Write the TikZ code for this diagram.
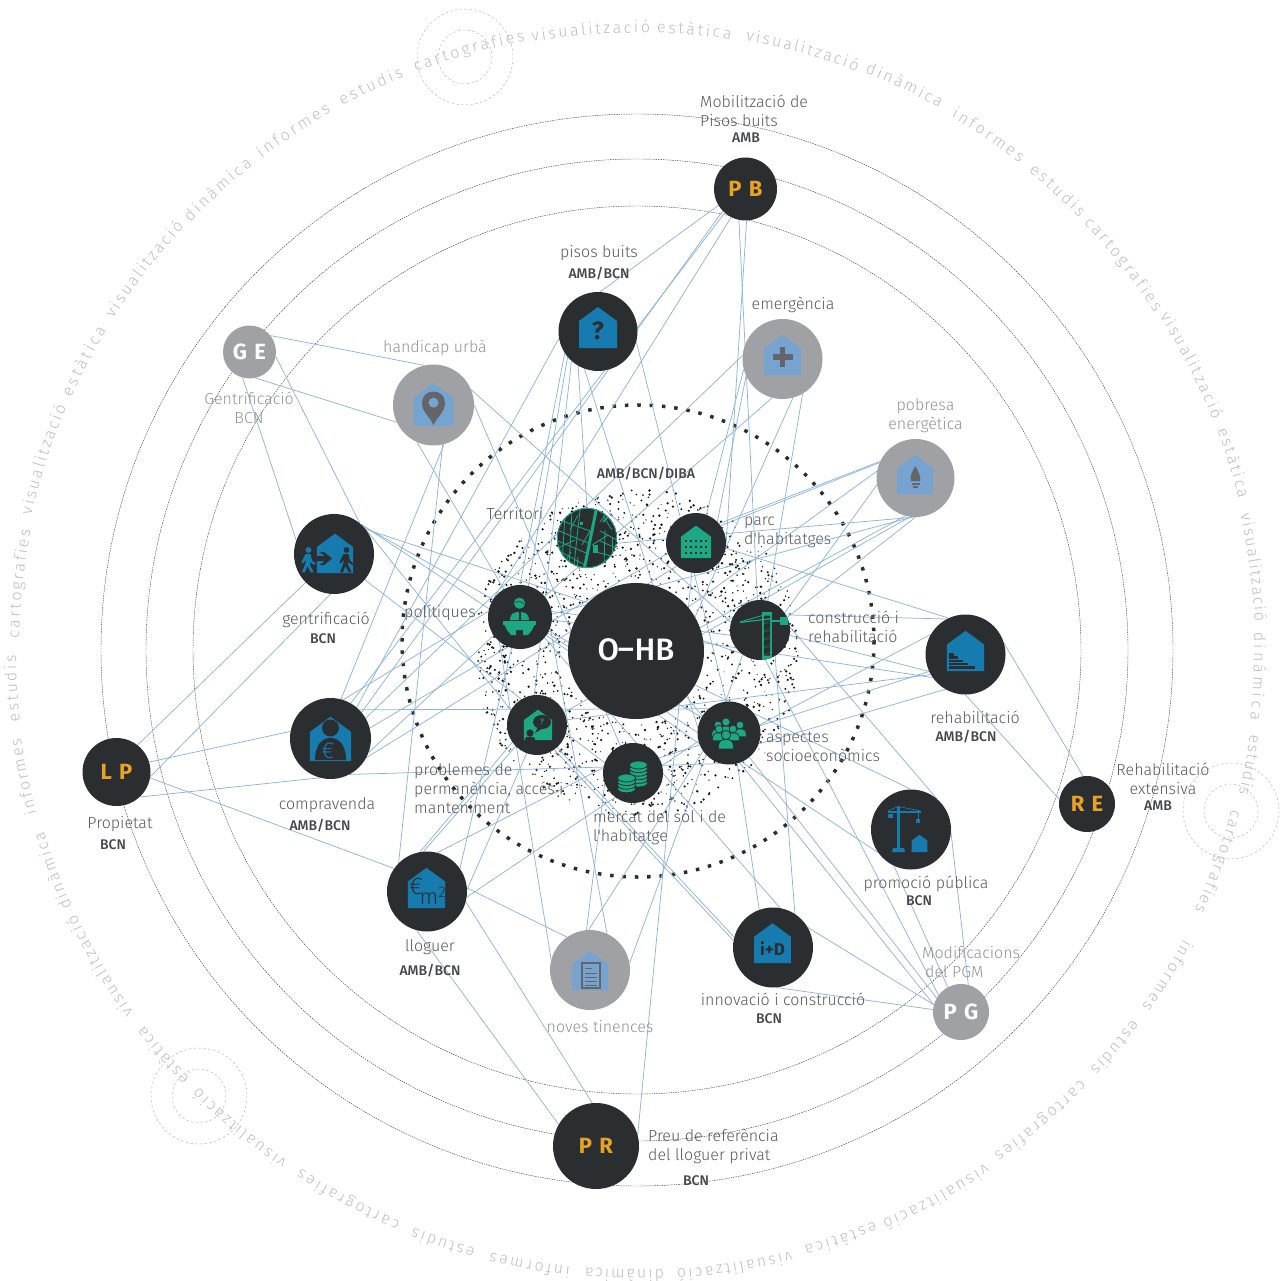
\documentclass[tikz,border=0pt]{standalone}
\usepackage{fontspec}
\usetikzlibrary{decorations.text}
\newfontfamily\lf{Fira Sans Light}
\newfontfamily\mf{Fira Sans Medium}
\newfontfamily\hvf{Fira Sans}[BoldFont={Fira Sans Bold}]
\definecolor{nodedark}{HTML}{2B2E31}
\definecolor{nodegrey}{HTML}{A0A1A5}
\definecolor{homeblue}{HTML}{167CB0}
\definecolor{homepale}{HTML}{76A3CF}
\definecolor{iconmid}{HTML}{636569}
\definecolor{teal}{HTML}{1BA882}
\definecolor{linkc}{HTML}{8FB4DA}
\definecolor{labelc}{HTML}{55585B}
\definecolor{labelg}{HTML}{909296}
\definecolor{orangec}{HTML}{E8A325}
\definecolor{ringc}{HTML}{BCBEC0}
\pgfdeclarelayer{under}
\pgfsetlayers{under,main}
\tikzset{
 dnode/.style={circle,inner sep=0pt,fill=nodedark,minimum size=#1 pt},
 gnode/.style={circle,inner sep=0pt,fill=nodegrey,minimum size=#1 pt},
 link/.style={draw=linkc,line width=0.75pt},
 thinring/.style={draw=black!75,line width=0.45pt,dash pattern=on 1.4pt off 1pt},
 paleling/.style={draw=black!28,line width=0.5pt,dash pattern=on 2.4pt off 2.4pt},
 lbl/.style={font=\lf\fontsize{16}{19}\selectfont,text=labelc,inner sep=0pt},
 lblg/.style={font=\lf\fontsize{16}{19}\selectfont,text=labelg,inner sep=0pt},
 lblb/.style={font=\mf\fontsize{14}{16}\selectfont,text=labelc!80!black,inner sep=0pt},
 badge/.style={font=\hvf\bfseries\fontsize{22}{22}\selectfont,text=orangec},
 badgew/.style={font=\hvf\bfseries\fontsize{22}{22}\selectfont,text=white},
}
\newcommand{\ringf}{\lf\fontsize{16}{16}\selectfont\color{ringc}}
\newcommand{\ringword}[5]{%
 \pgfmathsetmacro\aA{atan2(#3-650,#2-637)}%
 \pgfmathsetmacro\aB{atan2(#5-650,#4-637)}%
 \pgfmathsetmacro\aC{\aB<\aA ? \aB+360 : \aB}%
 \pgfmathsetmacro\rR{(veclen(#2-637,#3-650)+veclen(#4-637,#5-650))/2-3}%
 \path[decorate,decoration={text along path,text={|\ringf|#1},text align=fit to path}]
  plot[domain=\aA:\aC,samples=25] ({637+\rR*cos(\x)},{650+\rR*sin(\x)});
}
\newcommand{\homeat}[4]{\begin{scope}[shift={(#1,#2)},scale=#3]
 \fill[#4] (-19,0)--(-19,-27)--(0,-41)--(19,-27)--(19,0)--cycle;\end{scope}}
\newcommand{\walker}[3]{\begin{scope}[shift={(#1,#2)}]
 \fill[#3] (0.5,-22) circle (2.9);
 \fill[#3] (-2.5,-18)--(2.5,-18)--(4,-11.5)--(7.5,-8.5)--(6.2,-7)--(2.2,-10)--(2,-7)--(5.5,0)--(2.8,.6)--(-.5,-6)--(-3.2,.6)--(-6,0)--(-2.7,-8)--(-2.2,-12.5)--(-5,-8.5)--(-6.6,-9.5)--cycle;\end{scope}}
\newcommand{\coinstack}[4]{\foreach \k in {#3,...,0}{
 \filldraw[fill=teal,draw=nodedark,line width=.8pt] (#1,#2+\k*3.6) ellipse (#4 and 4);}}
\newcommand{\crowdp}[3]{\begin{scope}[shift={(#1,#2)},scale=#3]
 \fill[teal] (-7.5,13.5) .. controls (-8,6) and (-5,4.5) .. (0,4.5) .. controls (5,4.5) and (8,6) .. (7.5,13.5) -- cycle;
 \draw[nodedark,line width=.8pt] (-7.5,13.5) .. controls (-8,6) and (-5,4.5) .. (0,4.5) .. controls (5,4.5) and (8,6) .. (7.5,13.5);
 \filldraw[fill=teal,draw=nodedark,line width=.8pt] (0,0) circle (4.6);\end{scope}}
\begin{document}
\begin{tikzpicture}[x=1pt,y=-1pt]
\useasboundingbox (0,0) rectangle (1282,1281);
% --- nodes
\node[dnode=136] (ohb) at (636,651) {};
\node[dnode=60] (terr) at (587,538) {};
\node[dnode=60] (parc) at (696,543) {};
\node[dnode=64] (polit) at (520,617) {};
\node[dnode=60] (constr) at (760,630) {};
\node[dnode=60] (probl) at (537,725) {};
\node[dnode=60] (merc) at (633,773) {};
\node[dnode=63] (aspect) at (729,733) {};
\node[dnode=63,badge] (pb) at (745.5,189) {P\,\,B};
\node[dnode=79] (pisos) at (598,331.5) {};
\node[gnode=80] (emerg) at (782.5,359) {};
\node[gnode=78] (pob) at (915.5,478) {};
\node[gnode=81] (handi) at (433.5,405) {};
\node[gnode=53,badgew] (ge) at (249.5,352) {G\,\,E};
\node[dnode=80] (gent) at (334,554) {};
\node[dnode=81] (compra) at (330.5,738.5) {};
\node[dnode=68,badge] (lp) at (116.5,772) {L\,\,P};
\node[dnode=80] (llog) at (427,891.5) {};
\node[gnode=80] (noves) at (590,970) {};
\node[dnode=86,badge] (pr) at (596,1146) {P\,\,R};
\node[dnode=80] (innov) at (773,947.5) {};
\node[dnode=80] (promo) at (911,829.5) {};
\node[gnode=56,badgew] (pg) at (961,1012) {P\,\,G};
\node[dnode=56,badge] (re) at (1087,804) {R\,\,E};
\node[dnode=80] (rehab) at (965.5,654.5) {};
% --- logo
\node[font=\mf\fontsize{31}{31}\selectfont,text=white,inner sep=0pt] (logo) at (636,650) {O\kern-1pt\raisebox{1.5pt}{–}\kern.5pt HB};
\begin{pgfonlayer}{under}
% rings
\draw[thinring] (637,650) circle (444);
\draw[thinring] (637,650) circle (491);
\draw[thinring] (637,650) circle (536);
\foreach \cx/\cy in {465/57,199/1096,1231/811}{
 \draw[paleling] (\cx,\cy) circle (48);
 \draw[paleling] (\cx,\cy) circle (27);}
\draw[nodedark,line width=3.5pt,dash pattern=on 3.5pt off 8.85pt] (638,641) circle (236);
% stipple
\pgfmathsetseed{4217}
\foreach \i in {1,...,1500}{
 \pgfmathsetmacro\ta{rnd*360}
 \pgfmathsetmacro\ra{10*sqrt(rnd*217.12+51.84)}
 \pgfmathsetmacro\sa{0.55+0.85*rnd}
 \fill[black!90] ({636+\ra*cos(\ta)},{652+\ra*sin(\ta)}) circle (\sa);}
% ring words
\ringword{informes}{31}{815}{21}{738}
\ringword{estudis}{17}{722}{13}{655}
\ringword{cartografies}{14}{638}{30}{530}
\ringword{visualització}{30}{515}{62}{405}
\ringword{estàtica}{65}{395}{107}{330}
\ringword{visualització}{108}{315}{184}{227}
\ringword{dinàmica}{188}{220}{251}{163}
\ringword{informes}{261}{157}{329}{108}
\ringword{estudis}{342}{105}{402}{72}
\ringword{cartografies}{416}{72}{524}{35}
\ringword{visualització}{532}{40}{650}{29}
\ringword{estàtica}{657}{28}{731}{38}
\ringword{visualització}{746}{38}{858}{68}
\ringword{dinàmica}{866}{70}{941}{105}
\ringword{informes}{952}{115}{1022}{160}
\ringword{estudis}{1030}{170}{1082}{215}
\ringword{cartografies}{1085}{222}{1158}{310}
\ringword{visualització}{1160}{316}{1218}{418}
\ringword{estàtica}{1216}{431}{1246}{497}
\ringword{visualització}{1245}{513}{1256}{622}
\ringword{dinàmica}{1256}{632}{1254}{720}
\ringword{estudis}{1252}{735}{1243}{795}
\ringword{cartografies}{1234}{810}{1198}{912}
\ringword{informes}{1189}{942}{1142}{1007}
\ringword{estudis}{1136}{1022}{1091}{1070}
\ringword{cartografies}{1083}{1082}{995}{1155}
\ringword{visualització}{987}{1167}{883}{1222}
\ringword{estàtica}{875}{1223}{805}{1250}
\ringword{visualització}{791}{1252}{677}{1275}
\ringword{dinàmica}{664}{1273}{585}{1270}
\ringword{informes}{570}{1270}{490}{1255}
\ringword{estudis}{475}{1250}{412}{1232}
\ringword{cartografies}{400}{1222}{298}{1173}
\ringword{visualització}{286}{1163}{196}{1090}
\ringword{estàtica}{188}{1080}{141}{1028}
\ringword{visualització}{133}{1013}{71}{917}
\ringword{dinàmica}{71}{907}{39}{833}
% connectors
\foreach \a/\b in {
 pb.211/pisos.87,pb.224/compra.40,pb.229/compra.60,pb.243/polit.150,pb.258/constr.95,pb.272/parc.0,
 pisos.190/compra.50,pisos.213/polit.90,pisos.220/polit.75,pisos.228/probl.95,pisos.240/terr.90,pisos.250/aspect.170,pisos.345/aspect.95,
 handi.246/polit.120,handi.285/compra.75,handi.283/llog.135,handi.0/merc.115,handi.22/constr.165,
 ge.38/handi.103,ge.283/handi.205,ge.255/gent.160,ge.350/gent.50,
 gent.48/polit.165,gent.42/probl.150,gent.38/constr.230,gent.45/aspect.150,gent.-40/merc.160,
 lp.52/gent.225,lp.-8/gent.265,lp.17/compra.170,lp.-47/compra.255,lp.-10/llog.145,
 compra.72/polit.170,compra.-20/polit.215,compra.-62/aspect.255,compra.45/aspect.50,compra.-28/parc.230,
 llog.75/merc.170,llog.100/probl.215,llog.95/probl.225,llog.3/probl.250,llog.-8/aspect.195,llog.5/noves.125,llog.-15/pr.95,llog.-105/pr.150,llog.35/polit.255,
 noves.165/polit.230,noves.95/merc.200,noves.92/aspect.215,noves.65/polit.340,noves.10/constr.235,
 pr.15/parc.262,
 innov.110/aspect.285,innov.57/constr.300,innov.80/polit.320,innov.170/probl.305,innov.165/probl.312,innov.30/pg.165,innov.-85/pg.175,
 promo.215/polit.330,promo.90/ohb.-30,promo.50/constr.5,promo.-5/pg.75,promo.-115/pg.118,
 pg.150/aspect.310,pg.143/constr.280,pg.165/ohb.-42,
 rehab.118/constr.30,rehab.115/parc.-10,rehab.150/aspect.15,rehab.-120/aspect.-20,rehab.-145/polit.-5,rehab.-150/probl.10,rehab.-155/constr.-10,rehab.16/re.98,rehab.-90/re.170,
 pob.155/parc.40,pob.157/parc.35,pob.170/ohb.40,pob.190/constr.35,pob.265/polit.5,pob.262/probl.25,pob.268/terr.-10,pob.255/ohb.20,pob.270/constr.25,
 emerg.175/compra.30,emerg.195/parc.70,emerg.205/parc.45,emerg.255/polit.40,emerg.285/ohb.30,emerg.300/constr.75,
 parc.200/compra.15,constr.190/polit.10,merc.30/rehab.205,aspect.200/polit.-35}{
 \draw[link] (\a) -- (\b);}
\end{pgfonlayer}
% --- icons: houses
\homeat{598}{348}{1}{homeblue}
\node[font=\hvf\bfseries\fontsize{25}{25}\selectfont,text=nodedark,inner sep=0pt] (qm) at (598,331) {?};
\homeat{433.5}{426}{1.05}{homepale}
\fill[iconmid] (433.5,425) .. controls (430,417) and (422,412) .. (422,403) .. controls (422,396) and (427,391.5) .. (433.5,391.5) .. controls (440,391.5) and (445,396) .. (445,403) .. controls (445,412) and (437,417) .. cycle;
\fill[homepale] (433.5,402.7) circle (5);
\homeat{782.5}{375}{.98}{homepale}
\fill[iconmid] (779.7,347) rectangle (785.3,367);
\fill[iconmid] (772.5,354.2) rectangle (792.5,359.8);
\homeat{915}{494}{.95}{homepale}
\fill[iconmid] (915.5,466) .. controls (912,472) and (909.5,476) .. (911,481) -- (920,481) .. controls (921.5,476) and (918,472) .. cycle;
\fill[iconmid] (911.5,482.5) rectangle (919.5,484.5);
\fill[iconmid] (913,485.5) rectangle (918,488);
% gentrification
\homeat{335}{573}{.96}{homeblue}
\walker{308}{572}{homeblue}
\walker{346}{572}{nodedark}
\fill[nodedark] (317,556)--(325,556)--(319.5,552)--(324,552)--(332,558.5)--(324,565)--(319.5,565)--(325,561)--(317,561)--cycle;
% compravenda
\homeat{330.5}{761}{1.08}{homeblue}
\fill[nodedark] (315,760) .. controls (315,745) and (322,738) .. (330.5,738) .. controls (339,738) and (346,745) .. (346,760) -- cycle;
\fill[nodedark] (330.5,728) circle (8.5);
\node[font=\lf\fontsize{23}{23}\selectfont,text=homeblue,inner sep=0pt] (eu) at (328,751) {€};
% lloguer
\homeat{426.5}{908}{.98}{homeblue}
\node[font=\lf\fontsize{24}{24}\selectfont,text=nodedark,inner sep=0pt] (eum) at (416,887) {€};
\node[font=\lf\fontsize{22}{22}\selectfont,text=nodedark,inner sep=0pt] (msq) at (433,896) {m\textsuperscript{2}};
% noves
\homeat{590}{990}{.95}{homepale}
\draw[iconmid,line width=1.4pt] (582,963) rectangle (600,988);
\foreach \yy/\xe in {968/592,973/597,977/597,981/597,985/597}{\draw[iconmid,line width=1pt] (585,\yy) -- (\xe,\yy);}
% i+D
\homeat{772.5}{963}{.97}{homeblue}
\node[font=\hvf\bfseries\fontsize{17}{17}\selectfont,text=nodedark,inner sep=0pt] (idt) at (772.5,949) {i+D};
% rehab
\homeat{965.5}{671}{.98}{homeblue}
\fill[nodedark] (949,653) rectangle (954,655.5);
\fill[nodedark] (949,656.3) rectangle (958,658.8);
\fill[nodedark] (949,659.6) rectangle (963,662.1);
\fill[nodedark] (949,662.9) rectangle (968,665.4);
\fill[nodedark] (949,666.2) rectangle (975,668.7);
% promocio crane
\homeat{919.5}{852}{.42}{homeblue}
\fill[homeblue] (896.5,807) rectangle (900,848);
\fill[homeblue] (893,848)--(904,848)--(905,852)--(892,852)--cycle;
\fill[homeblue] (888,811) rectangle (921,813);
\draw[homeblue,line width=.7pt] (888,811)--(898,806.5)--(921,811);
\fill[homeblue] (888,814) rectangle (893,818);
\draw[homeblue,line width=.8pt] (918,813)--(918,820);
\fill[homeblue] (916,819) rectangle (920,822.5);
% parc
\homeat{696}{558}{.79}{teal}
\foreach \i in {0,...,4}{\foreach \j in {0,1,2}{\fill[nodedark] ({686+\i*5-1.3},{541+\j*6-1.3}) rectangle ++(2.6,2.6);}}
% problemes
\homeat{538}{740}{.74}{teal}
\fill[nodedark] (542,722) ellipse (9 and 7);
\fill[nodedark] (538,727)--(535,733)--(543,728)--cycle;
\node[font=\mf\fontsize{8}{8}\selectfont,text=teal,inner sep=0pt] (pq) at (542,722) {?};
\fill[nodedark] (530,733) circle (3.6);
\fill[nodedark] (524.5,741) .. controls (525,737) and (527,736.5) .. (530,736.5) .. controls (533,736.5) and (535,737) .. (535.5,741) -- cycle;
% merc
\coinstack{638.5}{765}{5}{9}
\coinstack{626.5}{778}{3}{9}
% aspect
\crowdp{740}{725}{.85}
\crowdp{718}{725}{.85}
\crowdp{726}{722}{.9}
\crowdp{733}{729}{.85}
\crowdp{719}{729}{.85}
\crowdp{726}{735}{1}
% politiques
\fill[teal] (519.5,603.2) circle (5.6);
\draw[nodedark,line width=.6pt] (515,603) -- (519,601) -- (524,604);
\fill[teal] (510,620) .. controls (510,613.5) and (514,612) .. (519.5,612) .. controls (525,612) and (529,613.5) .. (529,620) -- cycle;
\fill[nodedark] (518.5,612) rectangle (520.5,620);
\fill[teal] (503,621) rectangle (536,625);
\fill[teal] (504.5,625)--(534.5,625)--(532,630)--(528,635)--(523,635)--(523,630)--(516,630)--(516,635)--(511,635)--(507,630)--cycle;
% construction crane
\begin{scope}
\clip (constr.center) circle (30);
\fill[teal] (762,612) -- (772,612) -- (772,662) -- (762,662) -- cycle;
\foreach \yy in {622,630,638,646,654}{
 \fill[nodedark] (764,\yy-6.5) -- (770,\yy-6.5) -- (770,\yy-2) -- (764,\yy+1) -- cycle;
 \fill[nodedark] (764,\yy+1.5) -- (770,\yy-1.5) -- (770,\yy+1.5) -- cycle;}
\draw[teal,line width=.9pt] (740,622) -- (771,613);
\draw[teal,line width=1.2pt] (740,622.5) -- (772,618.5);
\fill[teal] (771,620) rectangle (790,622);
\fill[teal] (780,617) rectangle (788,625);
\end{scope}
% territori map
\begin{scope}
\clip (terr.center) circle (30);
\foreach \xa/\ya/\xb/\yb in {560/520/590/531,557/530/588/543,558/541/586/553,561/552/585/565,565/513/562/565,572/510/569/567,580/510/574/565,590/531/582/545,603/516/612/530,600/531/617/540,598/540/616/548,596/552/615/557,600/522/606/514,605/530/604/566,612/538/612/562,592/545/608/535,570/530/578/515,558/548/575/540,571/552/565/562,578/557/577/568}{
 \draw[teal,line width=.8pt] (\xa,\ya)--(\xb,\yb);}
\draw[teal,line width=3pt] (597,506)--(584,570);
\fill[teal] (593,545) rectangle (598,553);
\fill[teal] (580,522) rectangle (583,525);
\draw[teal,line width=1.6pt] (603,522)--(610,515);
\draw[teal,line width=.9pt] (587,538) circle (29.6);
\end{scope}
% --- labels
\node[lbl,align=left,anchor=west] (l1) at (700,110.5) {Mobilització de\\Pisos buits};
\node[lblb] (l1b) at (746,138) {AMB};
\node[lbl] (l2) at (599,253) {pisos buits};
\node[lblb] (l2b) at (599,274) {AMB/BCN};
\node[lbl] (l3) at (793,305) {emergència};
\node[lblg] (l4) at (435,348) {handicap urbà};
\node[lblg,align=center] (l5) at (925.5,415.5) {pobresa\\energètica};
\node[lblg,align=center] (l6) at (249,407.5) {Gentrificació\\BCN};
\node[lblb] (l7) at (646,474) {AMB/BCN/DIBA};
\node[lbl] (l8) at (515,514) {Territori};
\node[lbl,align=left,anchor=west] (l9) at (744,532) {parc\\d'habitatges};
\node[lbl,anchor=west] (l10) at (404,613) {polítiques};
\node[lbl,align=left,anchor=west] (l11) at (808,626.5) {construcció i\\rehabilitació};
\node[lbl] (l12) at (326,620) {gentrificació};
\node[lblb] (l12b) at (323,639) {BCN};
\node[lbl] (l13) at (975,717) {rehabilitació};
\node[lblb] (l13b) at (966,737) {AMB/BCN};
\node[lbl,align=left,anchor=west] (l14) at (766,746.5) {aspectes\\socioeconòmics};
\node[lbl,align=left,anchor=west] (l15) at (414,789) {problemes de\\permanència, accés i\\manteniment};
\node[lbl] (l16) at (327,805) {compravenda};
\node[lblb] (l16b) at (320,826) {AMB/BCN};
\node[lbl] (l17) at (120,824) {Propietat};
\node[lblb] (l17b) at (113,845) {BCN};
\node[lbl,align=left,anchor=west] (l18) at (593,827.5) {mercat del sòl i de\\l'habitatge};
\node[lbl,align=center] (l19) at (1163,778.5) {Rehabilitació\\extensiva};
\node[lblb] (l19b) at (1158,806) {AMB};
\node[lbl] (l20) at (926,884) {promoció pública};
\node[lblb] (l20b) at (919,901) {BCN};
\node[lbl] (l21) at (430,947) {lloguer};
\node[lblb] (l21b) at (430,971) {AMB/BCN};
\node[lblg,align=left,anchor=west] (l22) at (922,962.5) {Modificacions\\\kern3pt del PGM};
\node[lbl] (l23) at (783,999) {innovació i construcció};
\node[lblb] (l23b) at (769,1019) {BCN};
\node[lblg] (l24) at (600,1027) {noves tinences};
\node[lbl,align=left,anchor=west] (l25) at (648,1146.5) {Preu de referència\\del lloguer privat};
\node[lblb] (l25b) at (696,1181) {BCN};
\end{tikzpicture}
\end{document}
